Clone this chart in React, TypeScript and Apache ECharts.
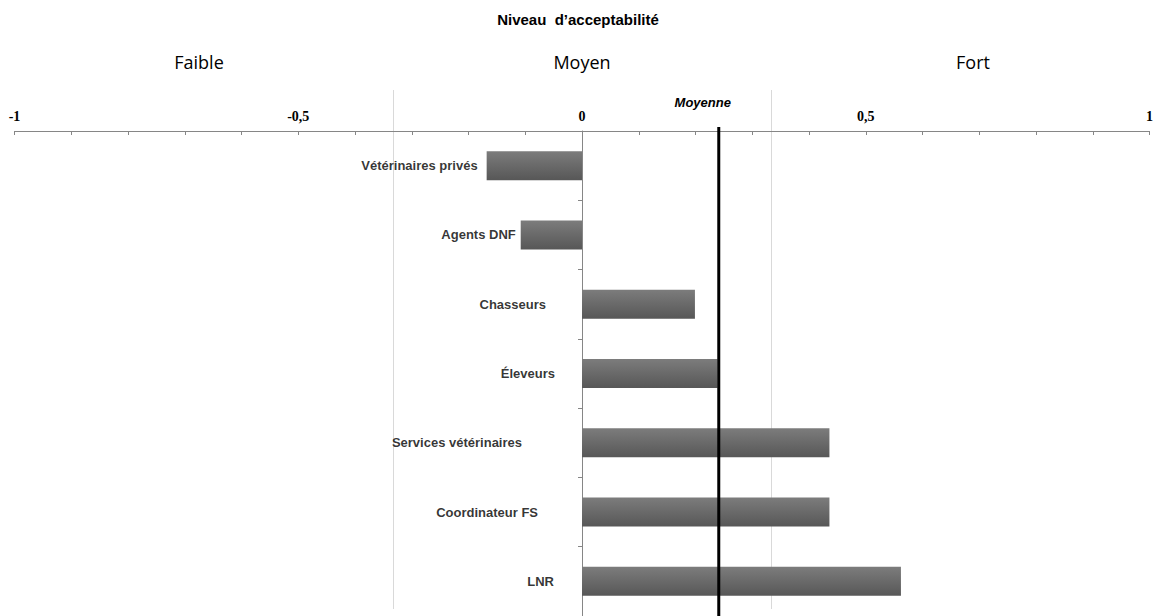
import React, { useEffect, useRef } from "react";
import * as echarts from "echarts";

const categories = [
  "Vétérinaires privés",
  "Agents DNF",
  "Chasseurs",
  "Éleveurs",
  "Services vétérinaires",
  "Coordinateur FS",
  "LNR",
];
const values = [-0.168, -0.108, 0.199, 0.239, 0.436, 0.436, 0.562];
const average = 0.241;
const averageLabel = "Moyenne";
const zoneBounds = [-1 / 3, 1 / 3];
const zoneLabels = ["Faible", "Moyen", "Fort"];
const title = "Niveau  d\u2019acceptabilité";

// label gap (px) between each category label and its bar / the zero axis
const labelGaps = [9, 5, 36, 27, 60, 44, 28];

const SANS = "'Liberation Sans', Arial, sans-serif";
const SERIF = "'Liberation Serif', 'Times New Roman', serif";

export default function App() {
  const ref = useRef<HTMLDivElement>(null);

  useEffect(() => {
    if (!ref.current) return;
    const chart = echarts.init(ref.current, null, { renderer: "svg" });

    const option: any = {
      animation: false,
      backgroundColor: "#ffffff",
      grid: { left: 14.5, width: 1140, top: 131, height: 486, containLabel: false },
      xAxis: {
        type: "value",
        position: "top",
        min: -1,
        max: 1,
        interval: 0.5,
        axisLine: { show: true, lineStyle: { color: "#868686", width: 1 } },
        axisTick: { show: true, inside: true, length: 4, lineStyle: { color: "#868686" } },
        minorTick: { show: true, splitNumber: 5, length: 4, lineStyle: { color: "#868686" } },
        splitLine: { show: false },
        axisLabel: {
          margin: 8,
          fontFamily: SERIF,
          fontWeight: "bold",
          fontSize: 14,
          color: "#000",
          formatter: (v: number) => String(v).replace(".", ","),
        },
      },
      yAxis: {
        type: "category",
        inverse: true,
        data: categories,
        axisLine: { show: true, onZero: true, lineStyle: { color: "#868686", width: 1 } },
        axisTick: { show: true, length: 4, lineStyle: { color: "#868686" } },
        axisLabel: { show: false },
        splitLine: { show: false },
      },
      series: [
        {
          type: "bar",
          data: values,
          barWidth: 29,
          z: 3,
          itemStyle: {
            color: new echarts.graphic.LinearGradient(0, 0, 0, 1, [
              { offset: 0, color: "#7c7c7c" },
              { offset: 1, color: "#575757" },
            ]),
          },
        },
        {
          type: "scatter",
          symbolSize: 0,
          silent: true,
          z: 4,
          data: values.map((v, i) => ({
            value: [Math.min(v, 0), i],
            label: {
              show: true,
              position: "left",
              distance: labelGaps[i],
              formatter: categories[i],
              fontFamily: SANS,
              fontWeight: "bold",
              fontSize: 13,
              color: "#000",
            },
          })),
        },
      ],
    };
    chart.setOption(option);

    const px = (v: number) => chart.convertToPixel({ xAxisIndex: 0 }, v) as number;
    const graphics: any[] = [];
    zoneBounds.forEach((b) => {
      const x = Math.round(px(b)) + 0.5;
      graphics.push({
        type: "line",
        z: 0,
        silent: true,
        shape: { x1: x, y1: 90, x2: x, y2: 609 },
        style: { stroke: "#d9d9d9", lineWidth: 1 },
      });
    });
    const ax = px(average);
    graphics.push({
      type: "line",
      z: 10,
      silent: true,
      shape: { x1: ax, y1: 127, x2: ax, y2: 616 },
      style: { stroke: "#000", lineWidth: 3 },
    });
    graphics.push({
      type: "text",
      z: 10,
      x: ax - 16,
      y: 102,
      style: {
        text: averageLabel,
        fill: "#000",
        font: `italic bold 13px ${SANS}`,
        align: "center",
        verticalAlign: "middle",
      },
    });
    graphics.push({
      type: "text",
      x: 578,
      y: 19,
      style: {
        text: title,
        fill: "#000",
        font: `bold 15px ${SANS}`,
        align: "center",
        verticalAlign: "middle",
      },
    });
    const zoneX = [199, 582, 973];
    zoneLabels.forEach((t, i) => {
      graphics.push({
        type: "text",
        x: zoneX[i],
        y: 62,
        style: {
          text: t,
          fill: "#000",
          font: `18px 'Open Sans', sans-serif`,
          align: "center",
          verticalAlign: "middle",
        },
      });
    });
    chart.setOption({ graphic: graphics });

    return () => chart.dispose();
  }, []);

  return (
    <div
      ref={ref}
      style={{ position: "fixed", left: 0, top: 0, width: 1156, height: 616, background: "#fff" }}
    />
  );
}
